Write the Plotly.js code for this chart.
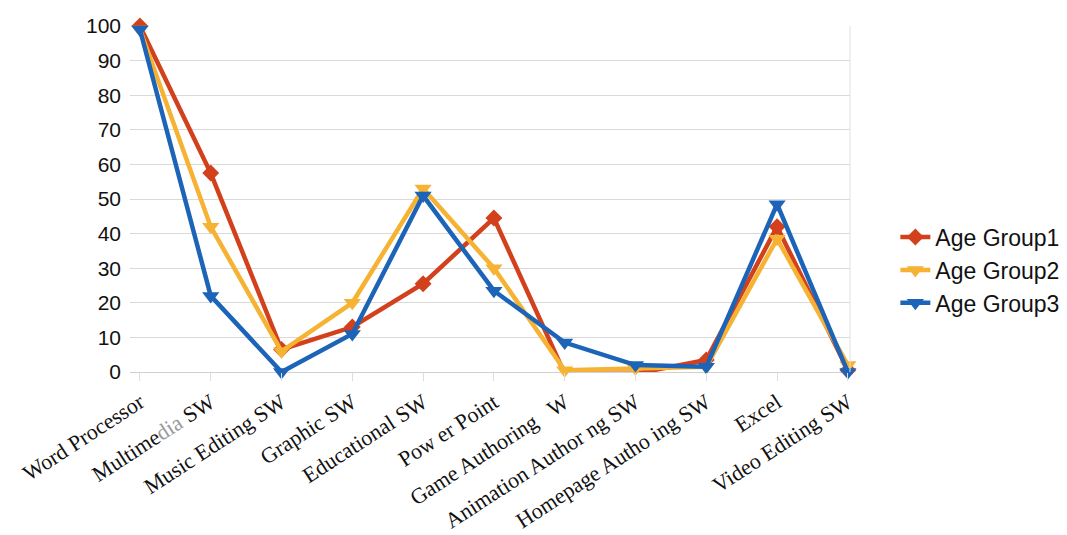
<!DOCTYPE html>
<html>
<head>
<meta charset="utf-8">
<script src="https://cdn.plot.ly/plotly-3.0.1.min.js"></script>
<style>html,body{margin:0;padding:0;background:#fff;}#chart{width:1067px;height:535px;}</style>
</head>
<body>
<div id="chart"></div>
<script>
const categories = ["Word Processor", "Multimedia SW", "Music Editing SW", "Graphic SW", "Educational SW", "Pow er Point", "Game Authoring W", "Animation Author ng SW", "Homepage Autho ing SW", "Excel", "Video Editing SW"];
const tickLabels = ["Word Processor", "Multime<span style=\"fill:#999999\">dia</span> SW", "Music Editing SW", "Graphic SW", "Educational SW", "Pow er Point", "Game Authoring&nbsp;&nbsp; W", "Animation Author ng SW", "Homepage Autho ing SW", "Excel", "Video Editing SW"];
const group1 = [100, 57.5, 6.5, 13, 25.5, 44.5, -0.5, -0.5, 3.5, 42, 0.5];
const group2 = [99, 42, 6, 20, 53, 30, 0.5, 1, 1.5, 38.5, 2];
const group3 = [99, 22, 0, 11, 51, 23.5, 8.5, 2, 1.5, 48.5, 0];
const seriesNames = ["Age Group1", "Age Group2", "Age Group3"];

const xIdx = categories.map((c, i) => i);
const colors = ["#d2401c", "#f6b233", "#1c64b8"];
const symbols = ["diamond", "triangle-down", "triangle-down"];
const sizes = [13, 15, 15];
const data = [group1, group2, group3].map((vals, k) => ({
  type: "scatter",
  mode: "lines+markers",
  x: xIdx,
  y: vals,
  name: seriesNames[k],
  cliponaxis: false,
  line: {color: colors[k], width: 4.5},
  marker: {symbol: symbols[k], size: sizes[k], color: colors[k]}
}));

const layout = {
  width: 1067, height: 535,
  margin: {l: 130, r: 217, t: 26, b: 163, autoexpand: false},
  paper_bgcolor: "#ffffff", plot_bgcolor: "#ffffff",
  showlegend: true,
  legend: {x: 1.063, y: 0.452, xanchor: "left", yanchor: "top",
           font: {family: "Liberation Sans, Arial, sans-serif", size: 23, color: "#111"},
           tracegroupgap: 0, itemwidth: 30},
  xaxis: {
    range: [-0.14, 10.03],
    automargin: false,
    tickmode: "array", tickvals: xIdx, ticktext: tickLabels,
    tickangle: -33,
    tickfont: {family: "Liberation Serif, Times New Roman, serif", size: 22, color: "#111"},
    showgrid: false, zeroline: false, showline: false,
    ticks: "outside", ticklen: 8, tickcolor: "#dddddd", tickwidth: 1
  },
  yaxis: {
    range: [0, 100], dtick: 10,
    automargin: false,
    tickfont: {family: "Liberation Sans, Arial, sans-serif", size: 21, color: "#111"},
    ticklabelstandoff: 8,
    showgrid: true, gridcolor: "#d9d9d9", gridwidth: 1,
    zeroline: true, zerolinecolor: "#d0d0d0", zerolinewidth: 1,
    showline: false, ticks: "", ticklen: 0
  },
  shapes: [{type: "line", xref: "paper", yref: "paper", x0: 1, x1: 1, y0: 0, y1: 1,
            line: {color: "#e0e0e0", width: 1}}]
};

Plotly.newPlot("chart", data, layout, {displayModeBar: false, staticPlot: true});
</script>
</body>
</html>
